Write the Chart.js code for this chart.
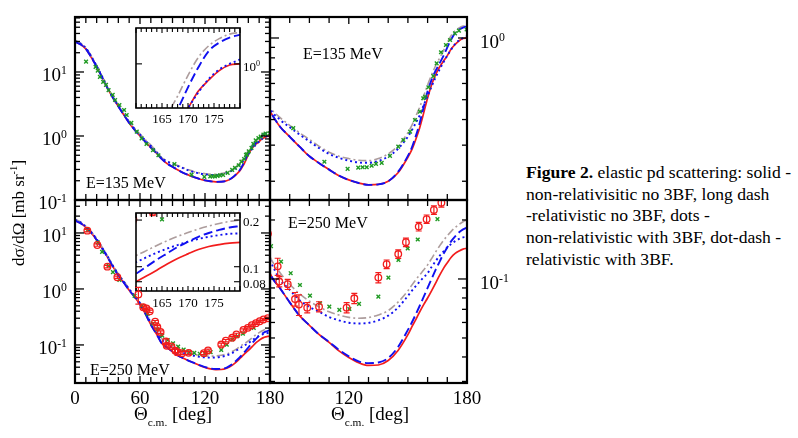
<!DOCTYPE html>
<html><head><meta charset="utf-8">
<script src="https://cdn.jsdelivr.net/npm/chart.js@4/dist/chart.umd.min.js"></script>
<style>
body{margin:0;background:#fff;}
#fig{position:relative;width:798px;height:438px;overflow:hidden;font-family:"Liberation Serif","Times New Roman",serif;color:#000;background:#fff;}
#fig canvas{position:absolute;}
.t{position:absolute;white-space:nowrap;line-height:1;}
.t sup{font-size:62%;vertical-align:0;position:relative;top:-0.62em;}
.t sub{font-size:60%;vertical-align:0;position:relative;top:0.55em;}
#cap{position:absolute;left:526px;top:162px;font-size:17.6px;line-height:21.7px;white-space:nowrap;}
</style></head><body><div id="fig"></div>
<script>
// ---------- data ----------
const thetaGrid = [0,5,10,15,20,25,30,35,40,45,50,55,60,65,70,75,80,85,90,95,100,105,110,115,120,125,130,135,140,145,150,152,154,156,158,160,162,164,166,168,170,172,174,176,178,180];

// E = 135 MeV theory curves
const e135Solid   = [29.7,27,23,17,12.1,8.3,5.6,3.95,2.9,2.15,1.6,1.25,1.0,0.81,0.66,0.545,0.44,0.37,0.33,0.295,0.265,0.245,0.228,0.213,0.203,0.196,0.192,0.193,0.2,0.22,0.262,0.285,0.32,0.365,0.43,0.51,0.59,0.66,0.72,0.77,0.82,0.885,0.93,0.97,0.995,1.0];
const e135Dash    = [29.7,27,23,17,12.1,8.3,5.6,3.95,2.9,2.15,1.6,1.25,1.0,0.81,0.66,0.545,0.44,0.37,0.33,0.295,0.265,0.245,0.228,0.213,0.203,0.196,0.192,0.193,0.2,0.222,0.266,0.292,0.332,0.385,0.46,0.55,0.625,0.69,0.75,0.815,0.9,0.985,1.06,1.1,1.125,1.14];
const e135Dots    = [30.5,27.8,23.6,17.5,12.4,8.5,5.7,4.0,2.95,2.2,1.65,1.3,1.05,0.85,0.7,0.57,0.45,0.40,0.367,0.338,0.313,0.29,0.272,0.26,0.252,0.247,0.246,0.251,0.264,0.288,0.33,0.355,0.385,0.42,0.47,0.52,0.58,0.64,0.70,0.76,0.82,0.88,0.935,0.975,1.0,1.02];
const e135DotDash = [31,28.2,24,17.8,12.6,8.6,5.8,4.1,3.0,2.25,1.68,1.32,1.07,0.87,0.72,0.58,0.46,0.41,0.375,0.345,0.32,0.296,0.277,0.265,0.258,0.253,0.252,0.258,0.272,0.298,0.345,0.375,0.415,0.46,0.52,0.59,0.66,0.73,0.795,0.865,0.95,1.03,1.085,1.12,1.143,1.152];

// E = 250 MeV theory curves
const e250Solid   = [16.6,15,12.6,10,7.5,5.3,3.7,2.5,1.75,1.3,0.95,0.72,0.53,0.36,0.23,0.16,0.107,0.09,0.076,0.065,0.058,0.052,0.0475,0.043,0.0398,0.0374,0.0362,0.0364,0.0384,0.0432,0.052,0.057,0.062,0.068,0.074,0.08,0.087,0.095,0.104,0.113,0.121,0.129,0.135,0.139,0.142,0.1435];
const e250Dash    = [16.6,15,12.6,10,7.5,5.3,3.7,2.5,1.75,1.3,0.95,0.72,0.53,0.36,0.23,0.16,0.107,0.09,0.076,0.065,0.058,0.052,0.0477,0.0435,0.0403,0.038,0.0372,0.0375,0.0395,0.045,0.055,0.06,0.066,0.073,0.081,0.09,0.1,0.111,0.122,0.134,0.145,0.156,0.165,0.173,0.179,0.183];
const e250Dots    = [17.2,15.5,13,10.3,7.75,5.5,3.82,2.6,1.82,1.35,0.99,0.75,0.56,0.38,0.25,0.175,0.125,0.1,0.088,0.078,0.072,0.068,0.064,0.0615,0.0598,0.0593,0.0597,0.0615,0.065,0.0715,0.082,0.087,0.092,0.097,0.102,0.107,0.115,0.123,0.131,0.138,0.145,0.151,0.156,0.16,0.163,0.164];
const e250DotDash = [17.5,15.8,13.2,10.5,7.9,5.6,3.9,2.65,1.85,1.38,1.01,0.77,0.57,0.39,0.26,0.185,0.13,0.108,0.094,0.084,0.077,0.072,0.068,0.0655,0.0637,0.063,0.0636,0.0655,0.069,0.0762,0.087,0.093,0.099,0.105,0.111,0.118,0.127,0.137,0.147,0.157,0.166,0.175,0.183,0.19,0.196,0.2];

// E = 135 MeV data (green crosses)
const e135DataTheta = [10.2,19,21,23,26,28.6,31,34.8,37,41,45.3,47.7,52,57,61.5,66,72,77,91.8,107.6,119.4,124.8,127,129.1,131.6,133.8,136.7,140.9,145.1,147.7,151.1,153.6,156.1,157.8,158.7,160.4,162.9,164.6,166.8,169.3,171.4,173.9,175.9,179.8];
const e135DataVal   = [14.5,12.0,10.5,8.4,7.0,6.3,5.2,4.4,3.65,3.05,2.55,2.13,1.6,1.17,0.92,0.75,0.6,0.5,0.363,0.249,0.23,0.233,0.234,0.234,0.238,0.243,0.246,0.266,0.295,0.318,0.349,0.398,0.437,0.508,0.517,0.575,0.652,0.752,0.852,0.924,0.978,1.054,1.086,1.1];

// E = 250 MeV data: green crosses
const e250GreenTheta = [11.7,21,25,31,35,41,55,61.7,67,72,76,80.5,85.6,90.5,95.2,100.3,105.4,110.1,115.2,120.3,125.2,135,140.1,145.2,149.9,155,165];
const e250GreenVal   = [11.3,6.8,4.6,2.6,2.0,1.45,0.75,0.5,0.36,0.24,0.19,0.147,0.1225,0.107,0.0932,0.0822,0.0752,0.0722,0.0695,0.0703,0.0746,0.0812,0.1016,0.125,0.143,0.159,0.202];
// E = 250 MeV data: red circles with relative errors
const e250RedTheta = [11.4,20.6,29.9,39.1,58.5,63,66,69,74,76,79,83.9,84.7,89,92.7,94.7,98.9,104.9,118.9,122.8,135,139.2,145.1,149,155.5,159.5,163.2,167,170.5,174,178];
const e250RedVal   = [11,6.1,2.5,1.62,0.8,0.47,0.45,0.4,0.26,0.21,0.17,0.116,0.097,0.094,0.079,0.074,0.0714,0.0722,0.0714,0.0797,0.1016,0.119,0.134,0.154,0.185,0.202,0.225,0.245,0.265,0.285,0.3];
const e250RedErr   = [0.05,0.05,0.05,0.05,0.33,0.05,0.05,0.05,0.05,0.05,0.05,0.1,0.06,0.06,0.08,0.12,0.06,0.06,0.06,0.06,0.06,0.05,0.05,0.05,0.05,0.05,0.05,0.05,0.05,0.05,0.05];

// tick labels
const mainXLabels = [0,60,120,180];
const zoomXLabels = [120,180];
const insetXLabels = [165,170,175];
const mainYLabels = [10,1,0.1];
const inset250YLabels = [0.2,0.1,0.08];

// ---------- helpers ----------
const fig = document.getElementById('fig');
const PAD = 14;
const RED = '#f21c1c', BLUE = '#1010f0', GREY = '#ad9d9d', GREEN = '#1f9a22';

function pts(xs, ys){ return xs.map((x,i)=>({x:x, y:ys[i]})); }
function curveSets(sol, dash, dots, dd, lw){
  return [
    {data:pts(thetaGrid,dd),  borderColor:GREY, borderWidth:lw*0.85, borderDash:[8,3,2,3], order:4},
    {data:pts(thetaGrid,dots),borderColor:BLUE, borderWidth:lw, borderDash:[2,3], order:3},
    {data:pts(thetaGrid,dash),borderColor:BLUE, borderWidth:lw, borderDash:[9,4], order:2},
    {data:pts(thetaGrid,sol), borderColor:RED,  borderWidth:lw*0.9, order:5}
  ].map(d=>Object.assign(d,{pointRadius:0, fill:false, cubicInterpolationMode:'monotone', clip:0}));
}
function greenSet(xs, ys){
  return {data:pts(xs,ys), showLine:false, pointStyle:'crossRot', pointRadius:2.6, pointBorderWidth:1.4,
          pointBorderColor:GREEN, pointBackgroundColor:GREEN, borderColor:GREEN, order:1, clip:0};
}
function redSet(xs, ys, errs){
  return {data:pts(xs,ys), errs:errs, showLine:false, pointStyle:'circle', pointRadius:3.3, pointBorderWidth:1.3,
          pointBorderColor:RED, pointBackgroundColor:'rgba(0,0,0,0)', borderColor:RED, order:0, clip:0};
}

const framePlugin = {
  id:'frame',
  beforeDraw(chart, args, o){
    if(!o.fill) return;
    const a = chart.chartArea, ctx = chart.ctx;
    ctx.save(); ctx.fillStyle = '#fff';
    ctx.fillRect(a.left-1, a.top-1, a.right-a.left+2, a.bottom-a.top+2); ctx.restore();
  },
  afterDatasetsDraw(chart){
    const ctx = chart.ctx, a = chart.chartArea, y = chart.scales.y;
    ctx.save();
    ctx.beginPath(); ctx.rect(a.left, a.top, a.right-a.left, a.bottom-a.top); ctx.clip();
    chart.data.datasets.forEach((ds, i) => {
      if(!ds.errs) return;
      const meta = chart.getDatasetMeta(i);
      ctx.strokeStyle = RED; ctx.lineWidth = 1.2;
      meta.data.forEach((el, j) => {
        const v = ds.data[j].y, e = ds.errs[j];
        const y1 = y.getPixelForValue(v*(1+e)), y2 = y.getPixelForValue(v*(1-e));
        ctx.beginPath();
        ctx.moveTo(el.x, y1); ctx.lineTo(el.x, y2);
        ctx.moveTo(el.x-3, y1); ctx.lineTo(el.x+3, y1);
        ctx.moveTo(el.x-3, y2); ctx.lineTo(el.x+3, y2);
        ctx.stroke();
      });
    });
    ctx.restore();
  },
  afterDraw(chart, args, o){
    const ctx = chart.ctx, a = chart.chartArea, x = chart.scales.x, y = chart.scales.y;
    ctx.save();
    ctx.strokeStyle = '#000'; ctx.lineWidth = o.tickWidth;
    const seg = (x1,y1,x2,y2)=>{ ctx.beginPath(); ctx.moveTo(x1,y1); ctx.lineTo(x2,y2); ctx.stroke(); };
    for(let v = x.min; v <= x.max + 1e-9; v += o.xStep){
      const px = x.getPixelForValue(v);
      const len = (Math.abs(v % o.xMajor) < 1e-6) ? o.xMajLen : o.xMinLen;
      seg(px, a.bottom, px, a.bottom - len); seg(px, a.top, px, a.top + len);
    }
    let yt = [];
    if(o.yTicks){ yt = o.yTicks.map(v=>[v,true]); }
    else {
      for(let e = Math.floor(Math.log10(y.min)); e <= Math.ceil(Math.log10(y.max)); e++)
        for(let k = 1; k <= 9; k++) yt.push([k*Math.pow(10,e), k===1]);
    }
    yt.forEach(([v,maj])=>{
      if(v < y.min*0.9999 || v > y.max*1.0001) return;
      const py = y.getPixelForValue(v), len = maj ? o.yMajLen : o.yMinLen;
      seg(a.left, py, a.left + len, py); seg(a.right, py, a.right - len, py);
    });
    ctx.lineWidth = o.frameWidth;
    ctx.strokeRect(a.left, a.top, a.right-a.left, a.bottom-a.top);
    ctx.restore();
  }
};

function panel(rect, xr, yr, datasets, fr, z){
  const c = document.createElement('canvas');
  const W = rect.r - rect.l + 2*PAD, H = rect.b - rect.t + 2*PAD;
  c.width = W; c.height = H;
  Object.assign(c.style, {left:(rect.l-PAD)+'px', top:(rect.t-PAD)+'px', width:W+'px', height:H+'px', zIndex:z});
  fig.appendChild(c);
  const ch = new Chart(c, {
    type:'line',
    data:{datasets:datasets},
    options:{
      responsive:false, animation:false, devicePixelRatio:1, events:[],
      layout:{padding:PAD},
      plugins:{legend:{display:false}, tooltip:{enabled:false}, frame:fr},
      scales:{
        x:{type:'linear', min:xr[0], max:xr[1], display:false},
        y:{type:'logarithmic', min:yr[0], max:yr[1], display:false}
      }
    },
    plugins:[framePlugin]
  });
  ch._offL = rect.l - PAD; ch._offT = rect.t - PAD;
  return ch;
}
const mainFrame = {xStep:10, xMajor:60, xMajLen:7, xMinLen:6, yMajLen:9, yMinLen:5, tickWidth:1.3, frameWidth:2.2};
const insetFrame = {xStep:1, xMajor:5, xMajLen:5, xMinLen:4, yMajLen:6, yMinLen:4, tickWidth:1.1, frameWidth:1.6, fill:true};

// ---------- panels ----------
const chTL = panel({l:75,t:17,r:270,b:200}, [0,180], [0.1,72.3],
  [greenSet(e135DataTheta,e135DataVal)].concat(curveSets(e135Solid,e135Dash,e135Dots,e135DotDash,1.9)), mainFrame, 2);
const chTR = panel({l:270,t:17,r:467,b:200}, [80,180], [0.162,1.266],
  [greenSet(e135DataTheta,e135DataVal)].concat(curveSets(e135Solid,e135Dash,e135Dots,e135DotDash,1.9)), mainFrame, 2);
const chBL = panel({l:75,t:200,r:270,b:383}, [0,180], [0.0209,38.8],
  [redSet(e250RedTheta,e250RedVal,e250RedErr), greenSet(e250GreenTheta,e250GreenVal)].concat(curveSets(e250Solid,e250Dash,e250Dots,e250DotDash,1.9)), mainFrame, 2);
const chBR = panel({l:270,t:200,r:467,b:383}, [80,180], [0.02946,0.2529],
  [redSet(e250RedTheta,e250RedVal,e250RedErr), greenSet(e250GreenTheta,e250GreenVal)].concat(curveSets(e250Solid,e250Dash,e250Dots,e250DotDash,1.9)), mainFrame, 2);
const chIT = panel({l:136,t:28,r:240,b:108}, [160,180], [0.821,1.175],
  curveSets(e135Solid,e135Dash,e135Dots,e135DotDash,1.9), Object.assign({yTicks:[1]}, insetFrame), 1);
const chIB = panel({l:136,t:213,r:240,b:291}, [160,180], [0.0697,0.2221],
  [redSet(e250RedTheta,e250RedVal,e250RedErr), greenSet(e250GreenTheta,e250GreenVal)].concat(curveSets(e250Solid,e250Dash,e250Dots,e250DotDash,1.9)),
  Object.assign({yTicks:[0.08,0.1,0.2]}, insetFrame), 1);

// ---------- text ----------
function txt(html, left, top, size, tf, extra){
  const d = document.createElement('div');
  d.className = 't'; d.innerHTML = html;
  Object.assign(d.style, {left:left+'px', top:top+'px', fontSize:size+'px', transform:tf||'', zIndex:5}, extra||{});
  fig.appendChild(d); return d;
}
const px = (ch,v)=> ch._offL + ch.scales.x.getPixelForValue(v);
const py = (ch,v)=> ch._offT + ch.scales.y.getPixelForValue(v);
const pow10 = v => '10<sup>' + Math.round(Math.log10(v)) + '</sup>';

mainXLabels.forEach(v => txt(String(v), px(chBL,v), 388, 19, 'translate(-50%,0)'));
zoomXLabels.forEach(v => txt(String(v), px(chBR,v), 388, 19, 'translate(-50%,0)'));
mainYLabels.forEach(v => { txt(pow10(v), 67, py(chTL,v)+2, 19, 'translate(-100%,-50%)');
                           txt(pow10(v), 67, py(chBL,v)+2, 19, 'translate(-100%,-50%)'); });
txt(pow10(1), 480, py(chTR,1)+3, 19, 'translate(0,-50%)');
txt(pow10(0.1), 480, py(chBR,0.1)+3, 19, 'translate(0,-50%)');
insetXLabels.forEach(v => { txt(String(v), px(chIT,v), 112, 13, 'translate(-50%,0)');
                            txt(String(v), px(chIB,v), 296, 13, 'translate(-50%,0)'); });
txt(pow10(1), 243, py(chIT,1)+3, 13, 'translate(0,-50%)');
inset250YLabels.forEach(v => txt(String(v), 243, py(chIB,v)+1, 13, 'translate(0,-50%)'));

txt('E=135 MeV', 86, 183, 16, 'translate(0,-50%)');
txt('E=135 MeV', 303, 54, 16, 'translate(0,-50%)');
txt('E=250 MeV', 90, 370, 16, 'translate(0,-50%)');
txt('E=250 MeV', 288, 223, 16, 'translate(0,-50%)');

txt('&Theta;<sub>c.m.</sub> [deg]', 173, 404, 19, 'translate(-50%,0)');
txt('&Theta;<sub>c.m.</sub> [deg]', 370, 404, 19, 'translate(-50%,0)');
txt('d&sigma;/d&Omega; [mb sr<sup>-1</sup>]', 18, 213, 17, 'translate(-50%,-50%) rotate(-90deg)');

const cap = document.createElement('div'); cap.id = 'cap';
cap.innerHTML = '<b>Figure 2.</b> elastic pd scattering: solid -<br>non-relativisitic no 3BF, long dash<br>-relativistic no 3BF, dots -<br>non-relativistic with 3BF, dot-dash -<br>relativistic with 3BF.';
fig.appendChild(cap);
</script></body></html>
